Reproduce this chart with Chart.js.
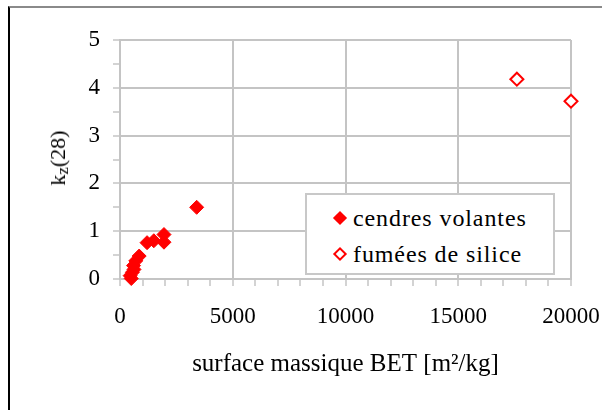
<!DOCTYPE html>
<html>
<head>
<meta charset="utf-8">
<script src="https://cdn.jsdelivr.net/npm/chart.js@4"></script>
<style>
  html, body { margin: 0; padding: 0; background: #fff; }
  #wrap { position: relative; width: 602px; height: 410px; overflow: hidden;
    font-family: "Liberation Serif", "Times New Roman", serif; color: #000; }
  #frame { position: absolute; left: 8px; top: 6px; right: -4px; bottom: -4px;
    border-top: 2px solid #8a8a8a; border-left: 2px solid #000; }
  #chart { position: absolute; left: 0; top: 0; }
  #ytitle { position: absolute; left: 59px; top: 158px; font-size: 22px; white-space: nowrap;
    transform: translate(-50%, -50%) rotate(-90deg); }
  #ytitle sub { font-size: 17px; vertical-align: -3px; }
  #legend { position: absolute; left: 305px; top: 193px; width: 246px; height: 78px;
    border: 2px solid #c8c8c8; background: #fff; font-size: 24px; }
  .row { position: absolute; left: 0; height: 30px; line-height: 30px; }
  .row span.txt { position: absolute; left: 46px; top: 0; white-space: nowrap; letter-spacing: 0.9px; }
  .mk { position: absolute; left: 28px; top: 10px; width: 10px; height: 10px; transform: rotate(45deg);
    box-sizing: border-box; }
  .mk.full { background: #ff0000; }
  .mk.hollow { background: #fff; border: 2px solid #ff0000; }
</style>
</head>
<body>
<div id="wrap">
  <div id="frame"></div>
  <canvas id="chart" width="602" height="410"></canvas>
  <div id="ytitle">k<sub>z</sub>(28)</div>
  <div id="legend">
    <div class="row" style="top:8px"><div class="mk full"></div><span class="txt">cendres volantes</span></div>
    <div class="row" style="top:44px"><div class="mk hollow"></div><span class="txt">fumées de silice</span></div>
  </div>
</div>
<script>
// ── Data ─────────────────────────────────────────────────────────────
const cendresX = [3400, 1950, 1950, 1500, 1200, 850, 700, 600, 620, 550, 450, 500];
const cendresY = [1.50, 0.93, 0.77, 0.80, 0.76, 0.48, 0.38, 0.28, 0.20, 0.14, 0.07, 0.01];
const fumeesX  = [17600, 20000];
const fumeesY  = [4.18, 3.72];

const xTitle = 'surface massique BET [m²/kg]';

// ── Style ────────────────────────────────────────────────────────────
const FONT = '"Liberation Serif", "Times New Roman", serif';
const GRID = '#c4c4c4';
const RED  = '#ff0000';

const toPts = (xs, ys) => xs.map((x, i) => ({ x, y: ys[i] }));

new Chart(document.getElementById('chart'), {
  type: 'scatter',
  data: {
    datasets: [
      { label: 'cendres volantes', data: toPts(cendresX, cendresY),
        pointStyle: 'rectRot', pointRadius: 7, backgroundColor: RED, borderColor: RED, borderWidth: 1, clip: false },
      { label: 'fumées de silice', data: toPts(fumeesX, fumeesY),
        pointStyle: 'rectRot', pointRadius: 6.5, backgroundColor: '#fff', borderColor: RED, borderWidth: 2, clip: false },
    ]
  },
  options: {
    responsive: false,
    animation: false,
    devicePixelRatio: 1,
    layout: { padding: { top: 40, right: 31, bottom: 0, left: 0 } },
    plugins: { legend: { display: false }, tooltip: { enabled: false } },
    scales: {
      x: {
        type: 'linear', min: 0, max: 20000,
        ticks: { stepSize: 1000, autoSkip: false, maxRotation: 0, padding: 17, color: '#000',
          font: { family: FONT, size: 23 },
          callback: v => (v % 5000 === 0 ? String(v) : '') },
        grid: { color: c => (c.tick && c.tick.value % 5000 === 0 ? GRID : 'rgba(0,0,0,0)'),
          tickColor: GRID, lineWidth: 2, tickWidth: 1.5, tickLength: 7 },
        border: { color: GRID, width: 2 },
        title: { display: true, text: xTitle, color: '#000', font: { family: FONT, size: 25 },
          padding: { top: 0, bottom: 31 } },
        afterFit: s => { s.height = 131; s.paddingLeft = 0; s.paddingRight = 31; },
      },
      y: {
        min: 0, max: 5,
        ticks: { stepSize: 0.5, autoSkip: false, padding: 13, color: '#000',
          font: { family: FONT, size: 23 },
          callback: v => (Number.isInteger(v) ? String(v) : '') },
        grid: { color: c => (c.tick && Number.isInteger(c.tick.value) ? GRID : 'rgba(0,0,0,0)'),
          tickColor: GRID, lineWidth: 2, tickWidth: 1.5, tickLength: 7 },
        border: { color: GRID, width: 2 },
        afterFit: s => { s.width = 120; },
      }
    }
  }
});
</script>
</body>
</html>
